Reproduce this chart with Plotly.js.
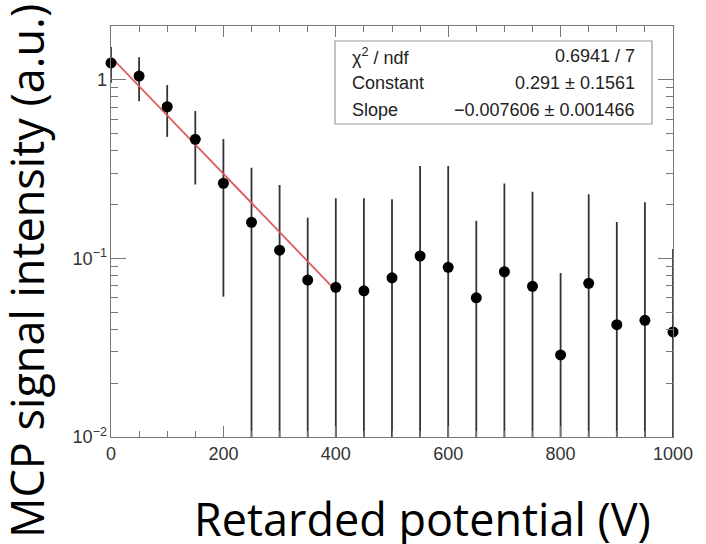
<!DOCTYPE html>
<html>
<head>
<meta charset="utf-8">
<script src="https://cdn.plot.ly/plotly-3.0.1.min.js"></script>
<style>html,body{margin:0;padding:0;background:#fff;}#chart{width:706px;height:544px;}</style>
</head>
<body>
<div id="chart"></div>
<script>
// Data
const potential = [0, 50, 100, 150, 200, 250, 300, 350, 400, 450, 500, 550, 600, 650, 700, 750, 800, 850, 900, 950, 1000];
const intensity = [1.24, 1.046, 0.705, 0.463, 0.263, 0.159, 0.111, 0.0755, 0.0688, 0.0658, 0.0778, 0.103, 0.089, 0.0601, 0.0841, 0.0697, 0.0288, 0.0724, 0.0425, 0.045, 0.0387];
const intensityErr = [0.28, 0.29, 0.227, 0.204, 0.202, 0.162, 0.146, 0.093, 0.148, 0.151, 0.136, 0.225, 0.239, 0.102, 0.178, 0.166, 0.054, 0.156, 0.117, 0.161, 0.074];
// Fit line endpoints (expo fit over 0-400 V)
const fitX = [0, 400];
const fitY = [1.338, 0.066];
// Fit statistics box
const statLabels = ['\u03c7<sup>2</sup> / ndf', 'Constant', 'Slope'];
const statValues = ['0.6941 / 7', '0.291 \u00b1 0.1561', '\u22120.007606 \u00b1 0.001466'];

const L = 111, R = 673, T = 26, B = 437;
const W = 706, H = 544;
const px2x = p => (p - L) / (R - L);
const py2y = p => (B - p) / (B - T);

const traces = [
  {
    x: potential, y: intensity, type: 'scatter', mode: 'markers',
    marker: {size: 10, color: 'rgba(0,0,0,0)'},
    error_y: {type: 'data', array: intensityErr, visible: true, color: '#333', thickness: 1.8, width: 0},
    hoverinfo: 'skip', showlegend: false
  },
  {
    x: fitX, y: fitY, type: 'scatter', mode: 'lines',
    line: {color: 'rgb(222,90,90)', width: 1.8}, showlegend: false
  },
  {
    x: potential, y: intensity, type: 'scatter', mode: 'markers',
    marker: {size: 11, color: '#000'}, cliponaxis: false, showlegend: false
  }
];

const rowY = [56, 83, 110];
const annotations = [
  {text: 'Retarded potential (V)', xref: 'paper', yref: 'paper', x: px2x(422), y: py2y(518),
   xanchor: 'center', yanchor: 'middle', showarrow: false,
   font: {family: 'Open Sans', size: 45, color: '#000'}},
  {text: 'MCP signal intensity (a.u.)', xref: 'paper', yref: 'paper', x: px2x(26), y: py2y(271),
   xanchor: 'center', yanchor: 'middle', showarrow: false, textangle: -90,
   font: {family: 'Open Sans', size: 45, color: '#000'}}
];
statLabels.forEach((t, i) => {
  annotations.push({text: t, xref: 'paper', yref: 'paper', x: px2x(350), y: py2y(rowY[i]),
    xanchor: 'left', yanchor: 'middle', showarrow: false,
    font: {family: 'Liberation Sans', size: 18, color: '#222'}});
  annotations.push({text: statValues[i], xref: 'paper', yref: 'paper', x: px2x(637), y: py2y(rowY[i]),
    xanchor: 'right', yanchor: 'middle', showarrow: false,
    font: {family: 'Liberation Sans', size: 18, color: '#222'}});
});

const layout = {
  width: W, height: H,
  margin: {l: L, r: W - R, t: T, b: H - B, pad: 0},
  paper_bgcolor: '#fff', plot_bgcolor: '#fff',
  showlegend: false,
  xaxis: {
    range: [0, 1000], showgrid: false, zeroline: false,
    showline: true, linecolor: '#777', linewidth: 1, mirror: 'ticks',
    ticks: 'inside', ticklen: 11, tickcolor: '#777', tickwidth: 1,
    dtick: 200, tick0: 0,
    minor: {dtick: 50, ticks: 'inside', ticklen: 6, tickcolor: '#777', showgrid: false},
    tickfont: {family: 'Liberation Sans', size: 18, color: '#333'}
  },
  yaxis: {
    type: 'log', range: [-2, 0.3], showgrid: false, zeroline: false,
    showline: true, linecolor: '#777', linewidth: 1, mirror: 'ticks',
    ticks: 'inside', ticklen: 15, tickcolor: '#777', tickwidth: 1,
    dtick: 1, exponentformat: 'power',
    minor: {dtick: 'D1', ticks: 'inside', ticklen: 7, tickcolor: '#777', showgrid: false},
    tickfont: {family: 'Liberation Sans', size: 14.5, color: '#333'}
  },
  shapes: [
    {type: 'rect', xref: 'paper', yref: 'paper', x0: px2x(335), x1: px2x(652), y0: py2y(124), y1: py2y(41),
     line: {color: '#999', width: 1.2}, fillcolor: '#fff', layer: 'above'}
  ],
  annotations: annotations
};

Plotly.newPlot('chart', traces, layout, {displayModeBar: false, staticPlot: true});
</script>
</body>
</html>
